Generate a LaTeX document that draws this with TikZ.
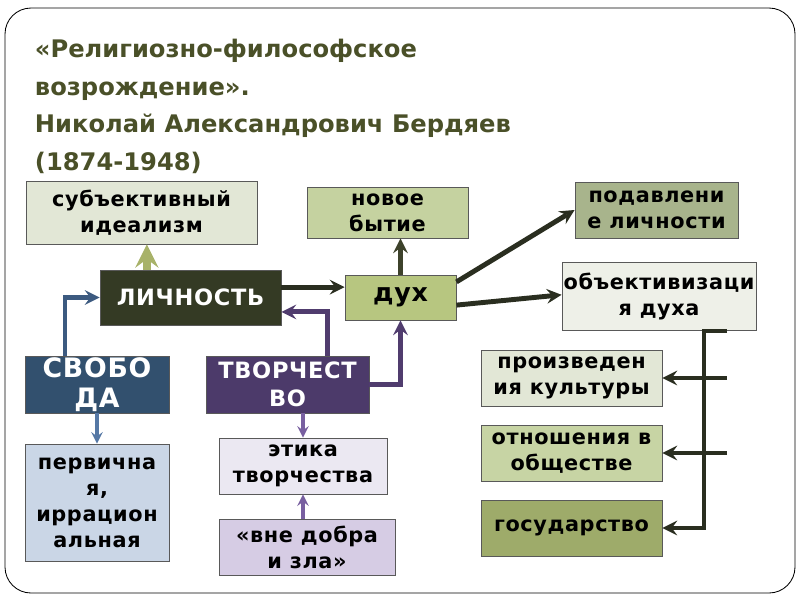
\documentclass[tikz,border=0pt]{standalone}
\usepackage{fontspec}
\setmainfont{DejaVu Sans}
\usetikzlibrary{positioning}
\usetikzlibrary{arrows}
\definecolor{titlecol}{RGB}{74,80,40}
\definecolor{subjfill}{RGB}{226,231,214}
\definecolor{novfill}{RGB}{197,210,160}
\definecolor{podfill}{RGB}{168,180,140}
\definecolor{lichfill}{RGB}{52,58,36}
\definecolor{dukhfill}{RGB}{183,198,128}
\definecolor{objfill}{RGB}{238,240,232}
\definecolor{svobfill}{RGB}{50,80,110}
\definecolor{tvorfill}{RGB}{76,58,106}
\definecolor{pervfill}{RGB}{202,214,230}
\definecolor{etikfill}{RGB}{235,232,242}
\definecolor{vnefill}{RGB}{214,204,228}
\definecolor{kulfill}{RGB}{226,231,214}
\definecolor{obshfill}{RGB}{199,212,164}
\definecolor{gosfill}{RGB}{158,171,106}
\definecolor{olivearr}{RGB}{168,178,105}
\definecolor{darkarr}{RGB}{42,46,32}
\definecolor{bluearr}{RGB}{60,90,128}
\definecolor{lbluearr}{RGB}{85,120,165}
\definecolor{purparr}{RGB}{80,60,110}
\definecolor{lpurparr}{RGB}{120,95,160}
\newcommand{\boxfont}[2]{\bfseries\fontsize{#1}{#2}\selectfont\addfontfeatures{LetterSpace=3}}
\tikzset{
  concept/.style={rectangle,draw=black!65,line width=0.6pt,align=center,
                  inner sep=0pt,font=\boxfont{14.8}{18.5}},
  keyword/.style={concept,text=white,font=\boxfont{16}{20}},
  flow/.style={>=stealth,line width=3.5pt,->,draw=darkarr},
  thinflow/.style={>=stealth,line width=2.5pt,->},
}

\begin{document}
\begin{tikzpicture}[x=0.025cm,y=-0.025cm]
  \useasboundingbox (0,0) rectangle (800,600);
  % frame and title
  \draw[line width=0.6pt,rounded corners=0.65cm] (5,8) rectangle (795,593);
  \node[anchor=north west,align=left,text=titlecol,
        font=\bfseries\fontsize{17.2}{26.8}\selectfont] (title) at (30,34)
       {«Религиозно-философское\\возрождение».\\Николай Александрович Бердяев\\(1874-1948)};

  % concepts
  \node[concept,fill=subjfill,minimum width=5.775cm,minimum height=1.575cm] (subj) at (141.5,212.5) {субъективный\\идеализм};
  \node[concept,fill=novfill,minimum width=4.025cm,minimum height=1.275cm]  (nov)  at (387.5,212.5) {новое\\бытие};
  \node[concept,fill=podfill,minimum width=4.075cm,minimum height=1.4cm]    (pod)  at (656.5,210)   {подавлени\\е личности};
  \node[keyword,fill=lichfill,minimum width=4.525cm,minimum height=1.375cm] (lich) at (190.5,297.5) {ЛИЧНОСТЬ};
  \node[concept,fill=dukhfill,minimum width=2.775cm,minimum height=1.125cm,
        font=\boxfont{18}{20}] (dukh) at (400.5,297.5) {дух};
  \node[concept,fill=objfill,minimum width=4.85cm,minimum height=1.7cm]     (obj)  at (659,296)     {объективизаци\\я духа};
  \node[keyword,fill=svobfill,minimum width=3.6cm,minimum height=1.425cm,
        font=\boxfont{19}{21}] (svob) at (97,384.5) {СВОБО\\ДА};
  \node[keyword,fill=tvorfill,minimum width=4.075cm,minimum height=1.425cm] (tvor) at (287.5,384.5) {ТВОРЧЕСТ\\ВО};
  \node[concept,fill=pervfill,minimum width=3.6cm,minimum height=2.925cm]   (perv) at (97,502.5)    {первична\\я,\\иррацион\\альная};
  \node[concept,fill=etikfill,minimum width=4.2cm,minimum height=1.4cm]     (etik) at (303,466)     {этика\\творчества};
  \node[concept,fill=vnefill,minimum width=4.4cm,minimum height=1.4cm]      (vne)  at (307,547)     {«вне добра\\и зла»};
  \node[concept,fill=kulfill,minimum width=4.525cm,minimum height=1.4cm]    (kul)  at (571.5,378)   {произведен\\ия культуры};
  \node[concept,fill=obshfill,minimum width=4.525cm,minimum height=1.4cm]   (obsh) at (571.5,453)   {отношения в\\обществе};
  \node[concept,fill=gosfill,minimum width=4.525cm,minimum height=1.4cm]    (gos)  at (571.5,528)   {государство};

  % arrows around the person
  \draw[>=stealth,->,line width=6pt,draw=olivearr] ([xshift=-1.09cm]lich.north) -- ([xshift=-1.09cm]lich.north |- subj.south);
  \draw[flow,draw=darkarr!85!olivearr] (dukh.north) -- (dukh.north |- nov.south);
  \draw[flow] ([yshift=0.26cm]lich.east) -- ([yshift=0.26cm]lich.east -| dukh.west);
  \draw[flow] ([yshift=0.39cm]dukh.east) -- (pod.west);
  \draw[flow] ([yshift=-0.19cm]dukh.east) -- ([yshift=0.03cm]obj.west);
  \draw[flow,draw=bluearr] ([xshift=-0.8cm]svob.north) |- (lich.west);
  \draw[flow,draw=purparr] ([xshift=1.01cm]tvor.north) |- ([yshift=-0.36cm]lich.east);
  \draw[flow,draw=purparr] (tvor.east) -| (dukh.south);
  \draw[thinflow,draw=lbluearr] (svob.south) -- (perv.north);
  \draw[thinflow,draw=lpurparr] (etik.north |- tvor.south) -- (etik.north);
  \draw[thinflow,draw=lpurparr] (etik.south |- vne.north) -- (etik.south);

  % objectivation bracket
  \coordinate (brtop)  at (704,331);
  \coordinate (brstub) at (727,331);
  \draw[flow] (brstub) -- (brtop) -- (brtop |- gos.east) -- (gos.east);
  \draw[flow] (kul.east -| brstub) -- (kul.east);
  \draw[flow] (obsh.east -| brstub) -- (obsh.east);
\end{tikzpicture}
\end{document}
